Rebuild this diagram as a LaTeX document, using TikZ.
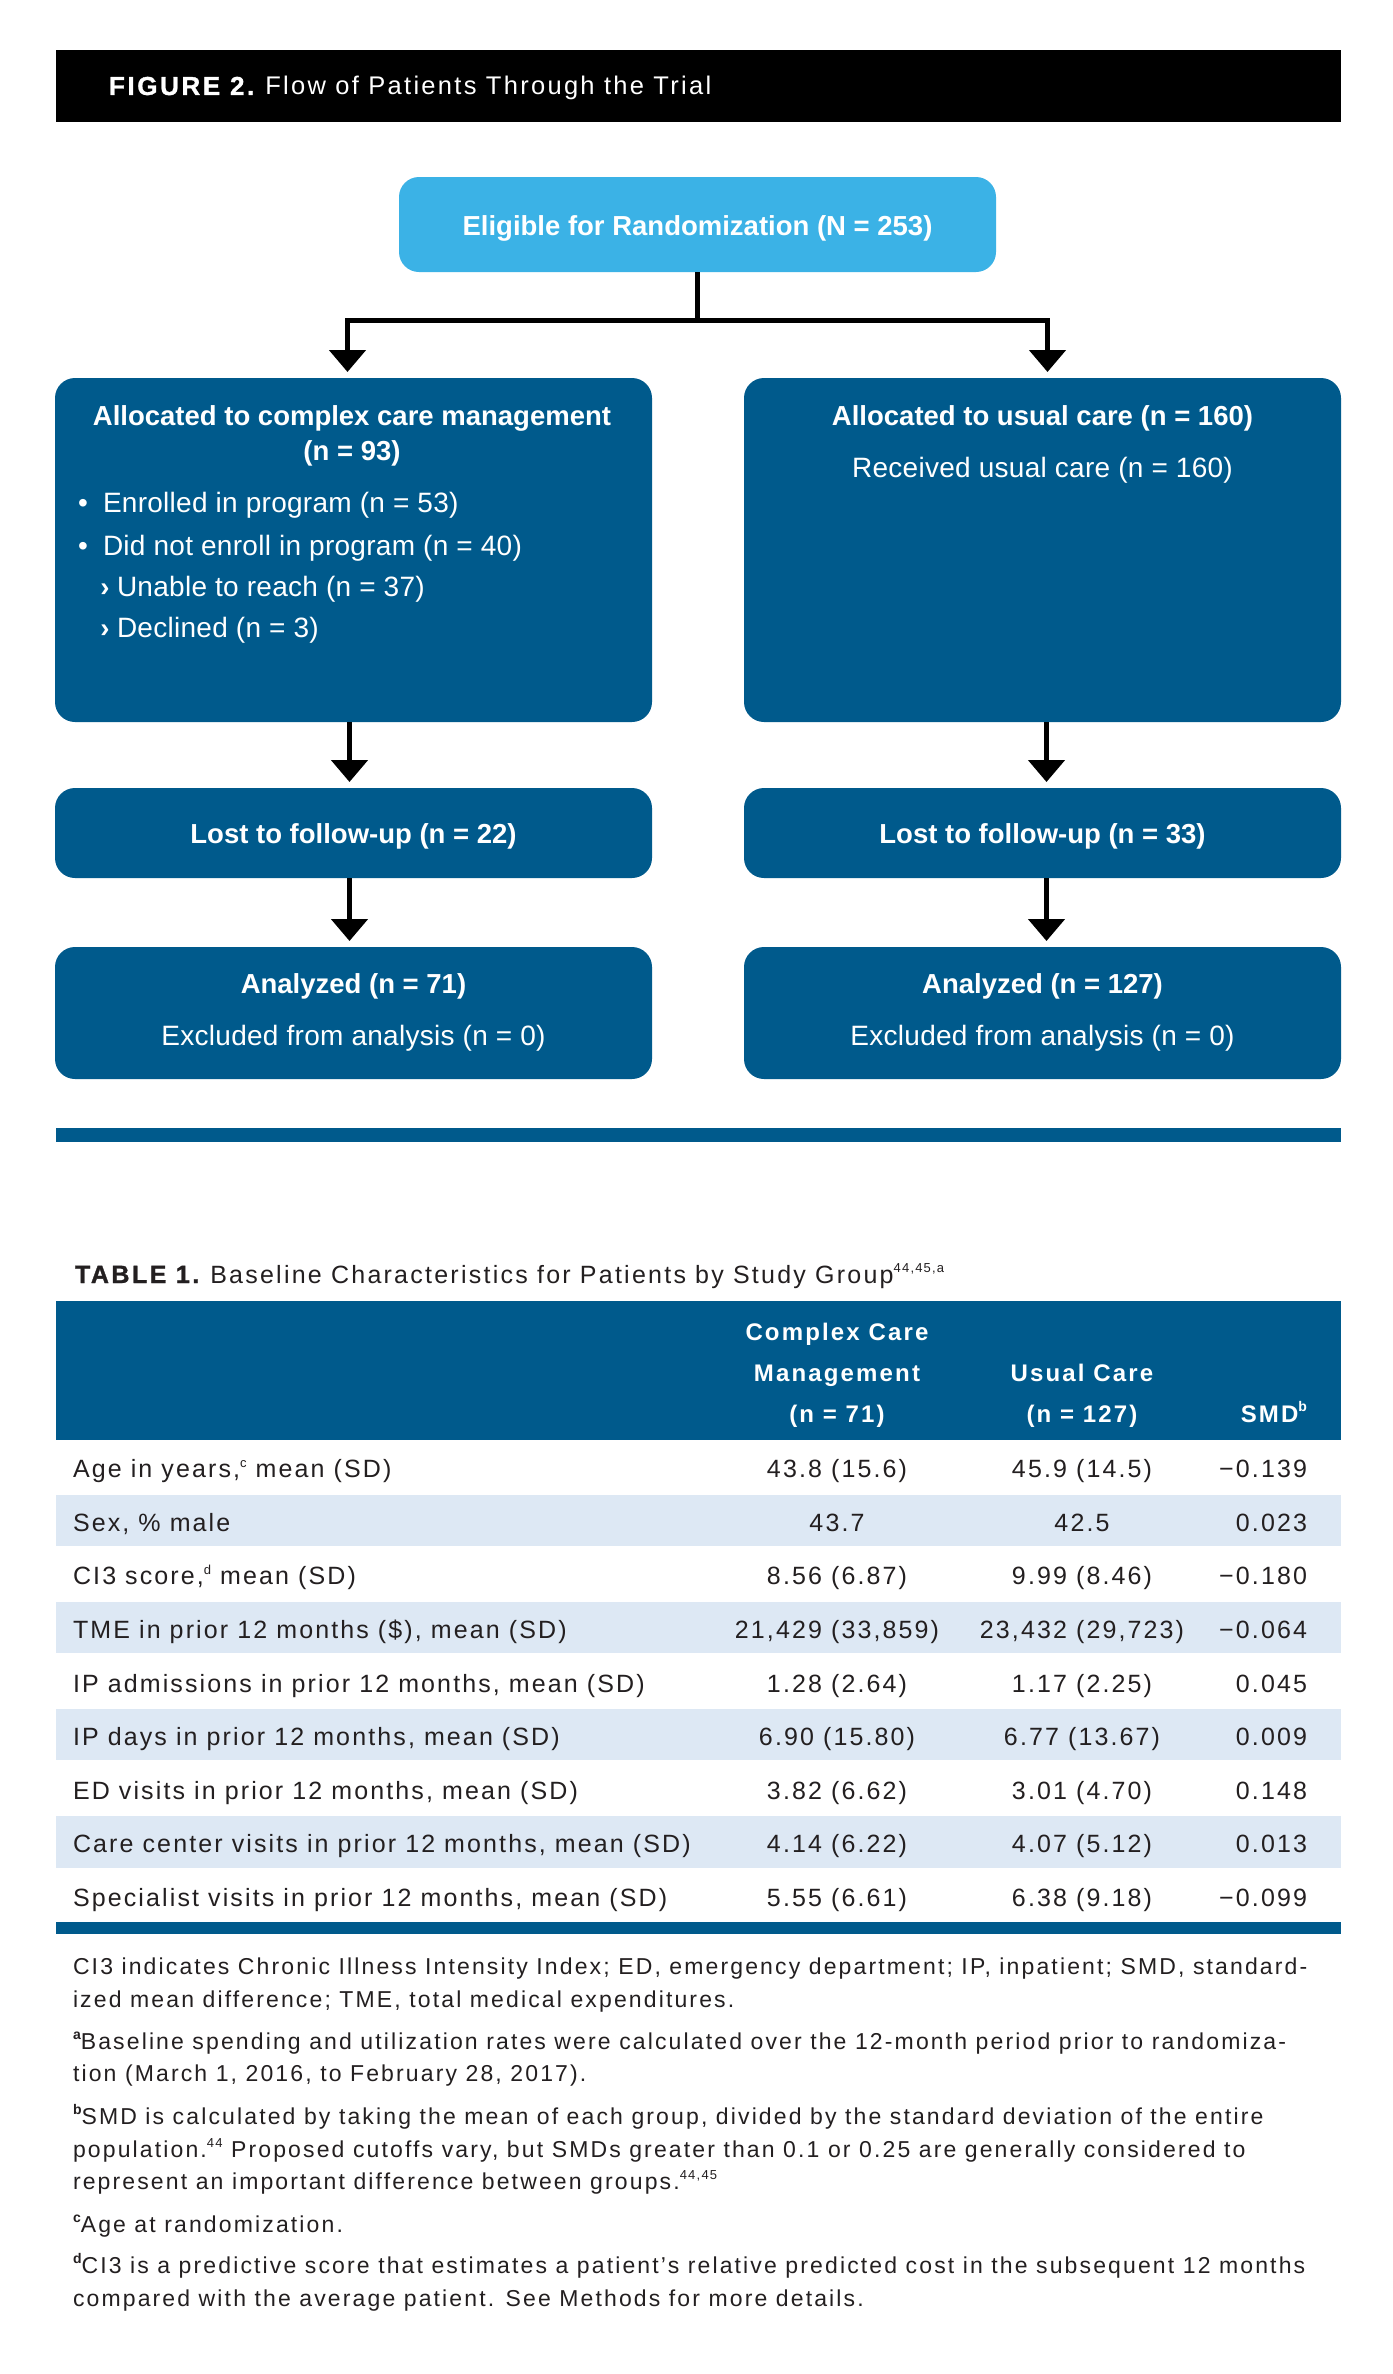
\documentclass[tikz,border=0pt]{standalone}
\usepackage{fontspec}
\usetikzlibrary{arrows.meta}
\setmainfont{Liberation Sans}
\newfontfamily\fReg{Liberation Sans}
\newfontfamily\fRegS[LetterSpace=1]{Liberation Sans}
\newfontfamily\fTab[LetterSpace=8.5]{Liberation Sans}
\newfontfamily\fTabH[LetterSpace=9]{Liberation Sans}
\newfontfamily\fNote[LetterSpace=9.3]{Liberation Sans}
\newfontfamily\fHead[LetterSpace=9]{Liberation Sans}
\newfontfamily\fHeadB[LetterSpace=10,FakeBold=1.2]{Liberation Sans}
\definecolor{dblue}{HTML}{005A8C}
\definecolor{lblue}{HTML}{3BB2E6}
\definecolor{rowblue}{HTML}{DDE8F4}
\definecolor{ink}{HTML}{231F20}
\newcommand\setfs[1]{\fontsize{#1}{#1}\selectfont}
\newcommand\flowB{\fReg\bfseries\setfs{27.5}}
\newcommand\flowR{\fRegS\setfs{28}}
\newcommand\tabR{\fTab\setfs{25}}
\newcommand\tabB{\fTabH\bfseries\setfs{24}}
\newcommand\noteR{\fNote\setfs{23}}
\newcommand\supr[1]{\raisebox{0.42em}{\setfs{13}#1}}
\newcommand\supb[1]{\raisebox{0.42em}{\bfseries\setfs{14}#1}}
\newcommand\trow[5]{%
  \path (73,{1440+(#1-0.5)*53.56+11}) node[tl,anchor=base west] (row#1l) {#2}
        (837,{1440+(#1-0.5)*53.56+11}) node[tl,anchor=base] (row#1a) {#3}
        (1082,{1440+(#1-0.5)*53.56+11}) node[tl,anchor=base] (row#1b) {#4}
        (1307,{1440+(#1-0.5)*53.56+11}) node[tl,anchor=base east] (row#1c) {#5};}
\begin{document}
\begin{tikzpicture}[x=1pt,y=-1pt,
  every node/.style={inner sep=0pt, outer sep=0pt},
  box/.style={fill=dblue, rounded corners=20pt, minimum width=597pt},
  wt/.style={text=white},
  one/.style={text=white, font=\flowB, text height=21pt, text depth=0pt},
  conn/.style={line width=5pt, -{Triangle[width=36pt,length=22pt]}, shorten >=6pt},
  tl/.style={text=ink, font=\tabR},
  th/.style={text=white, font=\tabB, anchor=base},
  nt/.style={text=ink, font=\noteR, anchor=base west}]
\useasboundingbox (0,0) rectangle (1392,2374);
\fill[white] (0,0) rectangle (1392,2374);

% header
\fill[black] (56,50) rectangle (1341,122);
\node[anchor=base west, text=white] (figtitle) at (109,95)
  {{\fHeadB\bfseries\setfs{26}FIGURE 2.}\hspace{11pt}{\fHead\setfs{25.5}Flow of Patients Through the Trial}};

% flow boxes
\node[box, fill=lblue, minimum height=95pt, one] (T) at (697.5,224.5) {Eligible for Randomization (N = 253)};
\node[box, minimum height=344pt] (L1) at (353.5,550) {};
\node[box, minimum height=344pt] (R1) at (1042.5,550) {};
\node[box, minimum height=90pt, one] (L2) at (353.5,833) {Lost to follow-up (n = 22)};
\node[box, minimum height=90pt, one] (R2) at (1042.5,833) {Lost to follow-up (n = 33)};
\node[box, minimum height=132pt] (L3) at (353.5,1013) {};
\node[box, minimum height=132pt] (R3) at (1042.5,1013) {};

% texts in the big boxes
\node[wt, font=\flowB, anchor=base] (L1a) at (352,425.5) {Allocated to complex care management};
\node[wt, font=\flowB, anchor=base] (L1b) at (352,460) {(n = 93)};
\node[wt, font=\flowR, anchor=base] (b1) at (83,512.5) {•};
\node[wt, font=\flowR, anchor=base west] (L1c) at (103,512.5) {Enrolled in program (n = 53)};
\node[wt, font=\flowR, anchor=base] (b2) at (83,555) {•};
\node[wt, font=\flowR, anchor=base west] (L1d) at (103,555) {Did not enroll in program (n = 40)};
\node[wt, font=\flowB, anchor=base] (b3) at (105,596.5) {›};
\node[wt, font=\flowR, anchor=base west] (L1e) at (117,596.5) {Unable to reach (n = 37)};
\node[wt, font=\flowB, anchor=base] (b4) at (105,637.5) {›};
\node[wt, font=\flowR, anchor=base west] (L1f) at (117,637.5) {Declined (n = 3)};
\node[wt, font=\flowB, anchor=base] (R1a) at (1042.5,425) {Allocated to usual care (n = 160)};
\node[wt, font=\flowR, anchor=base] (R1b) at (1042.5,477) {Received usual care (n = 160)};
\node[wt, font=\flowB, anchor=base] (L3a) at (353.5,993) {Analyzed (n = 71)};
\node[wt, font=\flowR, anchor=base] (L3b) at (353.5,1045) {Excluded from analysis (n = 0)};
\node[wt, font=\flowB, anchor=base] (R3a) at (1042.5,993) {Analyzed (n = 127)};
\node[wt, font=\flowR, anchor=base] (R3b) at (1042.5,1045) {Excluded from analysis (n = 0)};

% connectors
\coordinate (J) at (697.5,320);
\draw[line width=5pt] (T.south) -- (J);
\draw[conn] (J) -| ([xshift=-6pt]L1.north);
\draw[conn] (J) -| ([xshift=5pt]R1.north);
\draw[conn] ([xshift=-4pt]L1.south) -- ([xshift=-4pt]L2.north);
\draw[conn] ([xshift=4pt]R1.south) -- ([xshift=4pt]R2.north);
\draw[conn] ([xshift=-4pt]L2.south) -- ([xshift=-4pt]L3.north);
\draw[conn] ([xshift=4pt]R2.south) -- ([xshift=4pt]R3.north);

\fill[dblue] (56,1128) rectangle (1341,1142);

% table
\node[anchor=base west, text=ink] (tabtitle) at (75,1283)
  {{\fHeadB\bfseries\setfs{25}TABLE 1.}\hspace{11pt}{\fHead\setfs{25}Baseline Characteristics for Patients by Study Group\supr{44,45,a}}};
\fill[dblue] (56,1301) rectangle (1341,1440);
\node[th] (h1a) at (837,1340) {Complex Care};
\node[th] (h1b) at (837,1381.5) {Management};
\node[th] (h1c) at (837,1422) {(n = 71)};
\node[th] (h2a) at (1082,1381.5) {Usual Care};
\node[th] (h2b) at (1082,1422) {(n = 127)};
\node[th, anchor=base east] (h3) at (1307,1422) {SMD\supb{b}};
\foreach \i in {1,3,5,7} {
  \fill[rowblue] (56,{1440+\i*53.56+1}) rectangle (1341,{1440+(\i+1)*53.56-1});
}
\fill[dblue] (56,1922) rectangle (1341,1934);

\trow{1}{Age in years,\supr{c} mean (SD)}{43.8 (15.6)}{45.9 (14.5)}{−0.139}
\trow{2}{Sex, \% male}{43.7}{42.5}{0.023}
\trow{3}{CI3 score,\supr{d} mean (SD)}{8.56 (6.87)}{9.99 (8.46)}{−0.180}
\trow{4}{TME in prior 12 months (\$), mean (SD)}{21,429 (33,859)}{23,432 (29,723)}{−0.064}
\trow{5}{IP admissions in prior 12 months, mean (SD)}{1.28 (2.64)}{1.17 (2.25)}{0.045}
\trow{6}{IP days in prior 12 months, mean (SD)}{6.90 (15.80)}{6.77 (13.67)}{0.009}
\trow{7}{ED visits in prior 12 months, mean (SD)}{3.82 (6.62)}{3.01 (4.70)}{0.148}
\trow{8}{Care center visits in prior 12 months, mean (SD)}{4.14 (6.22)}{4.07 (5.12)}{0.013}
\trow{9}{Specialist visits in prior 12 months, mean (SD)}{5.55 (6.61)}{6.38 (9.18)}{−0.099}

% notes
\node[nt] (n1) at (73,1974) {CI3 indicates Chronic Illness Intensity Index; ED, emergency department; IP, inpatient; SMD, standard-};
\node[nt] (n2) at (73,2007) {ized mean difference; TME, total medical expenditures.};
\node[nt] (n3) at (73,2049) {\supb{a}Baseline spending and utilization rates were calculated over the 12-month period prior to randomiza-};
\node[nt] (n4) at (73,2081) {tion (March 1, 2016, to February 28, 2017).};
\node[nt] (n5) at (73,2124) {\supb{b}SMD is calculated by taking the mean of each group, divided by the standard deviation of the entire};
\node[nt] (n6) at (73,2157) {population.\supr{44} Proposed cutoffs vary, but SMDs greater than 0.1 or 0.25 are generally considered to};
\node[nt] (n7) at (73,2189) {represent an important difference between groups.\supr{44,45}};
\node[nt] (n8) at (73,2232) {\supb{c}Age at randomization.};
\node[nt] (n9) at (73,2273) {\supb{d}CI3 is a predictive score that estimates a patient’s relative predicted cost in the subsequent 12 months};
\node[nt] (n10) at (73,2306) {compared with the average patient. See Methods for more details.};
\end{tikzpicture}
\end{document}
